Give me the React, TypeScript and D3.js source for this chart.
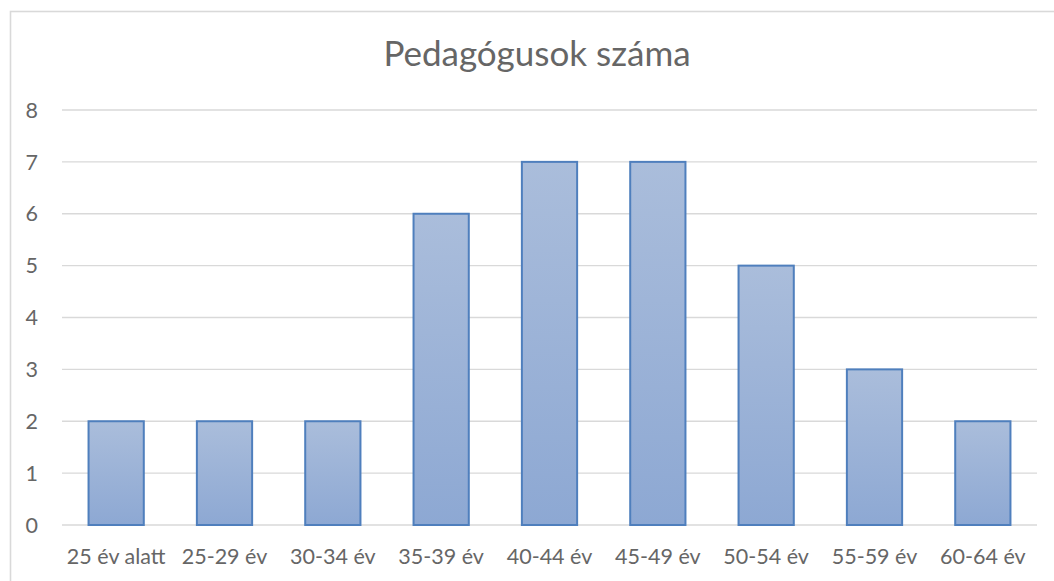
import React from "react";
import * as d3 from "d3";

const categories = ["25 év alatt", "25-29 év", "30-34 év", "35-39 év", "40-44 év", "45-49 év", "50-54 év", "55-59 év", "60-64 év"];
const values = [2, 2, 2, 6, 7, 7, 5, 3, 2];
const yTicks = [0, 1, 2, 3, 4, 5, 6, 7, 8];
const title = "Pedagógusok száma";

const W = 1054;
const H = 581;
const plot = { left: 62, right: 1037, top: 110, bottom: 525 };
const FONT = "Lato, 'Open Sans', sans-serif";
const TEXT = "#666666";

export default function App() {
  const x = d3.scaleBand<string>().domain(categories).range([plot.left, plot.right]).paddingInner(0.49).paddingOuter(0.245);
  const y = d3.scaleLinear().domain([0, 8]).range([plot.bottom, plot.top]);
  const band = d3.scaleBand<string>().domain(categories).range([plot.left, plot.right]);

  return (
    <svg width={W} height={H} style={{ position: "absolute", left: 0, top: 0, background: "#fff" }} fontFamily={FONT}>
      <defs>
        <linearGradient id="barGrad" x1="0" y1="0" x2="0" y2="1">
          <stop offset="0%" stopColor="#AABDDB" />
          <stop offset="100%" stopColor="#8DA8D3" />
        </linearGradient>
      </defs>
      <rect x={10.5} y={11.5} width={W + 20} height={H + 20} fill="#fff" stroke="#D9D9D9" strokeWidth={1.6} />
      <text x={537} y={66} textAnchor="middle" fontSize={35} fill={TEXT}>{title}</text>
      {yTicks.map((t) => (
        <g key={t}>
          <line x1={plot.left} x2={plot.right} y1={y(t)} y2={y(t)} stroke="#D9D9D9" strokeWidth={1.3} />
          <text x={38} y={y(t)} dy="0.36em" textAnchor="end" fontSize={21.5} fill={TEXT}>{t}</text>
        </g>
      ))}
      {categories.map((c, i) => (
        <rect
          key={c}
          x={x(c)!}
          y={y(values[i])}
          width={x.bandwidth()}
          height={y(0) - y(values[i])}
          fill="url(#barGrad)"
          stroke="#4F7FBD"
          strokeWidth={2}
        />
      ))}
      {categories.map((c) => (
        <text key={c} x={band(c)! + band.bandwidth() / 2} y={564} textAnchor="middle" fontSize={21.5} fill={TEXT}>{c}</text>
      ))}
    </svg>
  );
}
